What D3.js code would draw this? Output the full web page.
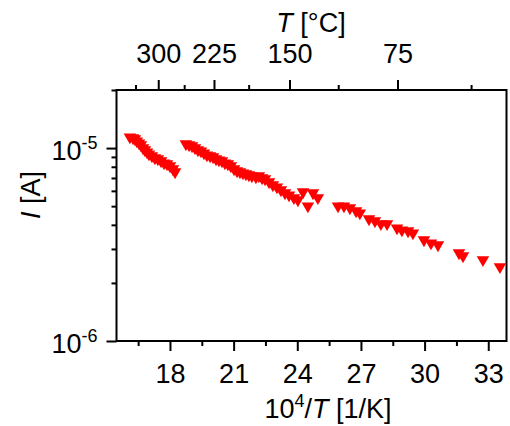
<!DOCTYPE html>
<html>
<head>
<meta charset="utf-8">
<script src="https://cdn.jsdelivr.net/npm/d3@7/dist/d3.min.js"></script>
<style>
  html, body { margin: 0; padding: 0; background: #fff; }
  svg { display: block; }
  text { font-family: "Liberation Sans", Arial, sans-serif; fill: #000; }
</style>
</head>
<body>
<svg id="chart" width="510" height="426"></svg>
<script>
// Inverse temperature, 10^4/T in 1/K
const invT = [
  16.11, 16.26, 16.35, 16.44, 16.54, 16.63, 16.73, 16.82, 16.92, 17.01,
  17.15, 17.29, 17.43, 17.58, 17.72, 17.86, 18.00, 18.14, 18.24,
  18.75, 18.90, 19.04, 19.18, 19.32, 19.46, 19.60, 19.74, 19.89, 20.03,
  20.17, 20.31, 20.45, 20.59, 20.73, 20.87, 21.02, 21.16, 21.30, 21.44,
  21.58, 21.72, 21.86, 22.05, 22.19, 22.34, 22.48,
  22.67, 22.85, 23.04, 23.23, 23.42, 23.61, 23.84, 24.03, 24.27, 24.74,
  24.50, 24.97,
  25.92, 26.20, 26.48, 26.77, 26.95, 27.38, 27.66, 27.94, 28.23, 28.70,
  28.93, 29.22, 29.45, 29.97, 30.30, 30.63, 31.62, 31.81, 32.75, 33.55
];

// Measured current in A
const current = [
  1.117e-5, 1.104e-5, 1.091e-5, 1.065e-5, 1.040e-5, 1.016e-5, 0.980e-5, 0.957e-5, 0.934e-5, 0.912e-5,
  0.891e-5, 0.870e-5, 0.860e-5, 0.839e-5, 0.819e-5, 0.810e-5, 0.791e-5, 0.763e-5, 0.736e-5,
  1.028e-5, 1.016e-5, 1.004e-5, 0.980e-5, 0.957e-5, 0.945e-5, 0.923e-5, 0.901e-5, 0.891e-5, 0.880e-5,
  0.860e-5, 0.849e-5, 0.839e-5, 0.819e-5, 0.810e-5, 0.791e-5, 0.763e-5, 0.745e-5, 0.736e-5, 0.727e-5,
  0.719e-5, 0.710e-5, 0.702e-5, 0.693e-5, 0.702e-5, 0.685e-5, 0.677e-5,
  0.653e-5, 0.630e-5, 0.615e-5, 0.594e-5, 0.573e-5, 0.559e-5, 0.540e-5, 0.527e-5, 0.580e-5, 0.573e-5,
  0.490e-5, 0.540e-5,
  0.490e-5, 0.490e-5, 0.479e-5, 0.462e-5, 0.451e-5, 0.420e-5, 0.410e-5, 0.396e-5, 0.396e-5, 0.377e-5,
  0.368e-5, 0.364e-5, 0.355e-5, 0.327e-5, 0.315e-5, 0.308e-5, 0.280e-5, 0.270e-5, 0.258e-5, 0.237e-5
];

// Tick values
const xMajorTicks = [18, 21, 24, 27, 30, 33];
const xMinorTicks = [16.5, 19.5, 22.5, 25.5, 28.5, 31.5];
const tempMajorTicks = [300, 225, 150, 75];          // °C
const tempMinorTicks = [337.5, 262.5, 187.5, 112.5, 37.5];
const yMajorTicks = [1e-6, 1e-5];
const yMinorTicks = [2e-6, 3e-6, 4e-6, 5e-6, 6e-6, 7e-6, 8e-6, 9e-6, 2e-5];

const points = invT.map((v, i) => ({ x: v, y: current[i] }));

const svg = d3.select("#chart");
const plotLeft = 116.5, plotRight = 506.5, plotTop = 90, plotBottom = 341;
const FS = 27;

const x = d3.scaleLinear().domain([15.48, 33.86]).range([plotLeft, plotRight]);
const y = d3.scaleLog().domain([1e-6, 2e-5]).range([plotBottom, plotTop]);
const toInvT = t => 1e4 / (t + 273.15);

function styleAxis(g) {
  g.select(".domain").remove();
  g.selectAll(".tick line").attr("stroke", "#000").attr("stroke-width", 2);
  g.selectAll(".tick text").style("font-size", FS + "px").attr("fill", "#000");
}

// Bottom axis
svg.append("g").attr("transform", `translate(0,${plotBottom})`)
  .call(d3.axisBottom(x).tickValues(xMinorTicks).tickSize(5).tickFormat(""))
  .call(styleAxis);
svg.append("g").attr("transform", `translate(0,${plotBottom})`)
  .call(d3.axisBottom(x).tickValues(xMajorTicks).tickSize(10).tickPadding(13).tickFormat(d3.format("d")))
  .call(styleAxis);

// Top axis in °C
svg.append("g").attr("transform", `translate(0,${plotTop})`)
  .call(d3.axisTop(x).tickValues(tempMinorTicks.map(toInvT)).tickSize(5).tickFormat(""))
  .call(styleAxis);
svg.append("g").attr("transform", `translate(0,${plotTop})`)
  .call(d3.axisTop(x).tickValues(tempMajorTicks.map(toInvT)).tickSize(10).tickPadding(17)
    .tickFormat(v => String(Math.round(1e4 / v - 273.15))))
  .call(styleAxis);

// Left axis (log)
svg.append("g").attr("transform", `translate(${plotLeft},0)`)
  .call(d3.axisLeft(y).tickValues(yMinorTicks).tickSize(5).tickFormat(""))
  .call(styleAxis);
const yAxisG = svg.append("g").attr("transform", `translate(${plotLeft},0)`)
  .call(d3.axisLeft(y).tickValues(yMajorTicks).tickSize(10).tickPadding(9).tickFormat(""))
  .call(styleAxis);
yAxisG.selectAll(".tick text").each(function (d) {
  const t = d3.select(this).attr("dy", null).attr("y", 11);
  t.append("tspan").text("10");
  t.append("tspan").attr("dy", -11).style("font-size", "18px").text(String(Math.round(Math.log10(d))));
});

// Frame
svg.append("rect")
  .attr("x", plotLeft).attr("y", plotTop)
  .attr("width", plotRight - plotLeft).attr("height", plotBottom - plotTop)
  .attr("fill", "none").attr("stroke", "#000").attr("stroke-width", 2);

// Downward triangle centred on its bounding box
const triangleDown = {
  draw(ctx, size) {
    const w = Math.sqrt(size * 4 / Math.sqrt(3));
    const h = w * Math.sqrt(3) / 2;
    ctx.moveTo(-w / 2, -h / 2);
    ctx.lineTo(w / 2, -h / 2);
    ctx.lineTo(0, h / 2);
    ctx.closePath();
  }
};
const markerWidth = 12.5;
const sym = d3.symbol().type(triangleDown).size(Math.sqrt(3) / 4 * markerWidth * markerWidth);

svg.append("g").selectAll("path").data(points).join("path")
  .attr("d", sym)
  .attr("transform", d => `translate(${x(d.x)},${y(d.y)})`)
  .attr("fill", "#ff0000");

// Axis titles
const xt = svg.append("text").attr("x", 328).attr("y", 418)
  .attr("text-anchor", "middle").style("font-size", FS + "px");
xt.append("tspan").text("10");
xt.append("tspan").attr("dy", -11).style("font-size", "18px").text("4");
xt.append("tspan").attr("dy", 11).text("/");
xt.append("tspan").style("font-style", "italic").text("T");
xt.append("tspan").text(" [1/K]");

const tt = svg.append("text").attr("x", 311).attr("y", 32)
  .attr("text-anchor", "middle").style("font-size", FS + "px");
tt.append("tspan").style("font-style", "italic").text("T");
tt.append("tspan").text(" [°C]");

const yt = svg.append("text").attr("transform", "translate(40,195) rotate(-90)")
  .attr("text-anchor", "middle").style("font-size", FS + "px");
yt.append("tspan").style("font-style", "italic").text("I");
yt.append("tspan").text(" [A]");
</script>
</body>
</html>
